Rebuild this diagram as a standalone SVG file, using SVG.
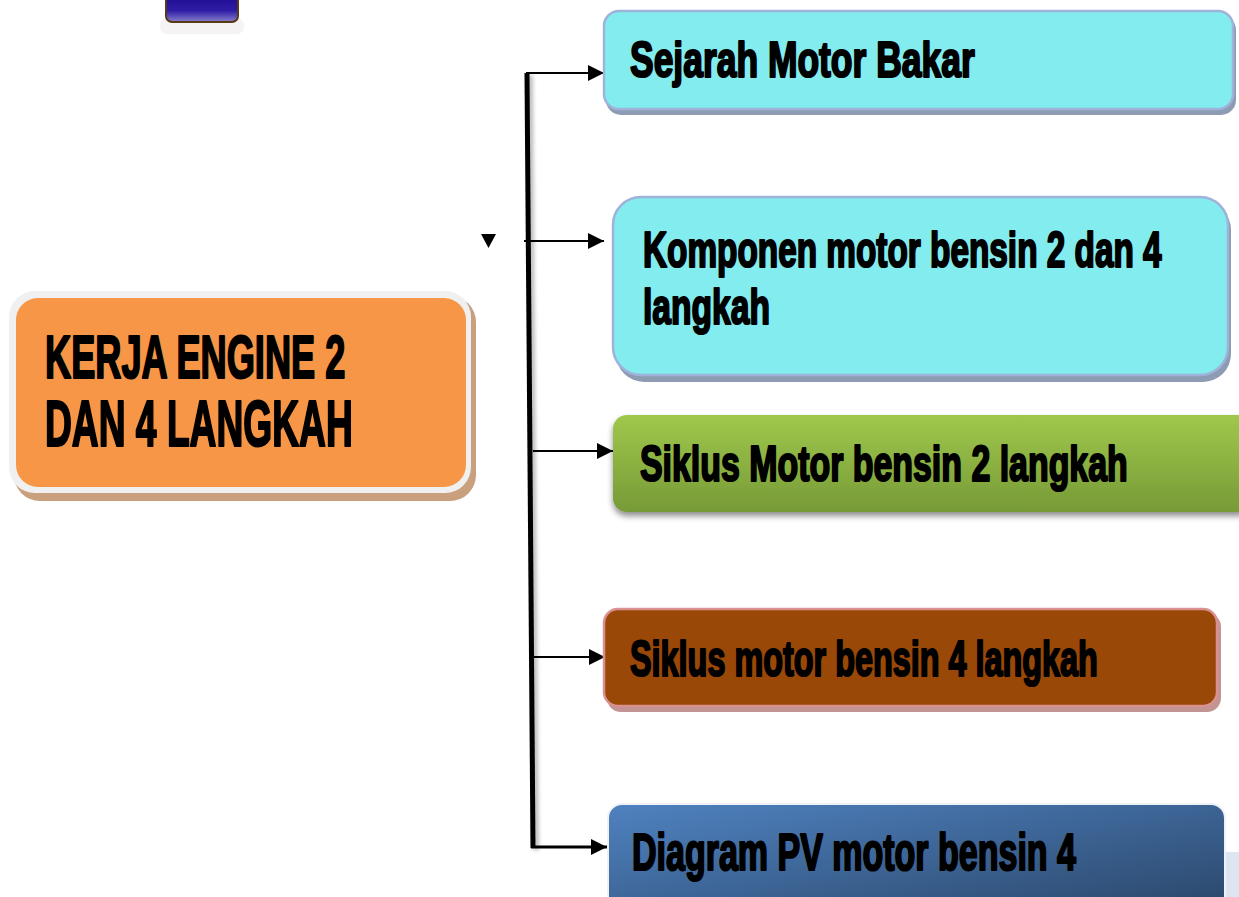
<svg xmlns="http://www.w3.org/2000/svg" width="1239" height="897" viewBox="0 0 1239 897">
<style>
.lbl{font-family:"Liberation Sans",Arial,sans-serif;font-weight:bold;fill:#000;stroke:#000;stroke-width:2.2;stroke-linejoin:round}
.thin{stroke:#000;stroke-width:2;fill:none}
.thick{stroke:#000;stroke-width:5;fill:none}
</style>
<defs>
<marker id="ah" markerUnits="userSpaceOnUse" markerWidth="16" markerHeight="16" refX="16" refY="8" orient="auto">
<path d="M0,0 L16,8 L0,16 Z" fill="#000"/>
</marker>
<linearGradient id="gGreen" x1="0" y1="0" x2="0" y2="1">
<stop offset="0" stop-color="#9fc84c"/>
<stop offset="1" stop-color="#779a37"/>
</linearGradient>
<linearGradient id="gBlue" x1="0" y1="0" x2="1" y2="1">
<stop offset="0" stop-color="#4f82c0"/>
<stop offset="1" stop-color="#2a4669"/>
</linearGradient>
<linearGradient id="gImg" x1="0" y1="0" x2="0" y2="1">
<stop offset="0" stop-color="#1c0a8e"/>
<stop offset="0.6" stop-color="#2e1ea6"/>
<stop offset="1" stop-color="#8a80cc"/>
</linearGradient>
<filter id="sh" x="-10%" y="-20%" width="120%" height="150%">
<feGaussianBlur in="SourceAlpha" stdDeviation="3"/>
<feOffset dx="0" dy="4" result="b"/>
<feComponentTransfer><feFuncA type="linear" slope="0.45"/></feComponentTransfer>
<feMerge><feMergeNode/><feMergeNode in="SourceGraphic"/></feMerge>
</filter>
<filter id="lsh" x="-200%" y="-5%" width="500%" height="110%">
<feGaussianBlur in="SourceAlpha" stdDeviation="2"/>
<feOffset dx="3" dy="2"/>
<feComponentTransfer><feFuncA type="linear" slope="0.3"/></feComponentTransfer>
<feMerge><feMergeNode/><feMergeNode in="SourceGraphic"/></feMerge>
</filter>
</defs>
<rect width="1239" height="897" fill="#fff"/>

<g id="image-fragment">
<rect x="160" y="18" width="84" height="16" rx="7" fill="#f2f0f0" opacity="0.8"/>
<rect x="166" y="-6" width="72" height="28" rx="6" fill="url(#gImg)" stroke="#5a3a14" stroke-width="2"/>
</g>

<rect x="1225" y="852" width="14" height="45" fill="#dde6f0"/>

<g id="connectors">
<path class="thick" d="M527,73 L533,848" filter="url(#lsh)"/>
<path class="thick" d="M470,417 L532,417" filter="url(#lsh)"/>
<path class="thin" d="M526,73 L604,73" marker-end="url(#ah)"/>
<path class="thin" d="M524,241 L604,241" marker-end="url(#ah)"/>
<path class="thin" d="M533,451 L613,451" marker-end="url(#ah)"/>
<path class="thin" d="M532,657 L605,657" marker-end="url(#ah)"/>
<path d="M531,847 L607,847" stroke="#000" stroke-width="3" fill="none" marker-end="url(#ah)"/>
<path d="M481,234 L496,234 L488.5,248 Z" fill="#000"/>
</g>

<g id="node-main">
<rect x="14" y="296" width="462" height="205" rx="26" fill="#c9a07e"/>
<rect x="9" y="291" width="462" height="202" rx="26" fill="#f0f0f0"/>
<rect x="16" y="298" width="450" height="189" rx="22" fill="#f79646"/>
<text class="lbl" transform="translate(45,378) scale(0.584,1)" font-size="62">KERJA ENGINE 2</text>
<text class="lbl" transform="translate(45,446) scale(0.581,1)" font-size="64">DAN 4 LANGKAH</text>
</g>

<g id="node-sejarah">
<rect x="606" y="15" width="630" height="100" rx="15" fill="#8d9cb2"/>
<rect x="604" y="11" width="629" height="98" rx="15" fill="#82ecef" stroke="#9fb2d9" stroke-width="2.5"/>
<text class="lbl" transform="translate(630,77) scale(0.709,1)" font-size="50">Sejarah Motor Bakar</text>
</g>

<g id="node-komponen">
<rect x="616" y="202" width="615" height="180" rx="28" fill="#8d9cb2"/>
<rect x="613" y="197" width="615" height="178" rx="28" fill="#82ecef" stroke="#9fb2d9" stroke-width="2.5"/>
<text class="lbl" transform="translate(643,267) scale(0.667,1)" font-size="50">Komponen motor bensin 2 dan 4</text>
<text class="lbl" transform="translate(643,324) scale(0.672,1)" font-size="50">langkah</text>
</g>

<g id="node-siklus2">
<rect x="613" y="415" width="640" height="97" rx="14" fill="url(#gGreen)" filter="url(#sh)"/>
<text class="lbl" transform="translate(640,481) scale(0.678,1)" font-size="50">Siklus Motor bensin 2 langkah</text>
</g>

<g id="node-siklus4">
<rect x="607" y="613" width="614" height="99" rx="14" fill="#c29494"/>
<rect x="604" y="609" width="613" height="97" rx="14" fill="#9a4808" stroke="#d9908e" stroke-width="2.5"/>
<text class="lbl" transform="translate(630,676) scale(0.648,1)" font-size="50">Siklus motor bensin 4 langkah</text>
</g>

<g id="node-diagram">
<rect x="608" y="804" width="617" height="110" rx="14" fill="url(#gBlue)" stroke="#eef1f6" stroke-width="2"/>
<text class="lbl" transform="translate(632,870) scale(0.654,1)" font-size="52" stroke-width="3.4">Diagram PV motor bensin 4</text>
</g>
</svg>
